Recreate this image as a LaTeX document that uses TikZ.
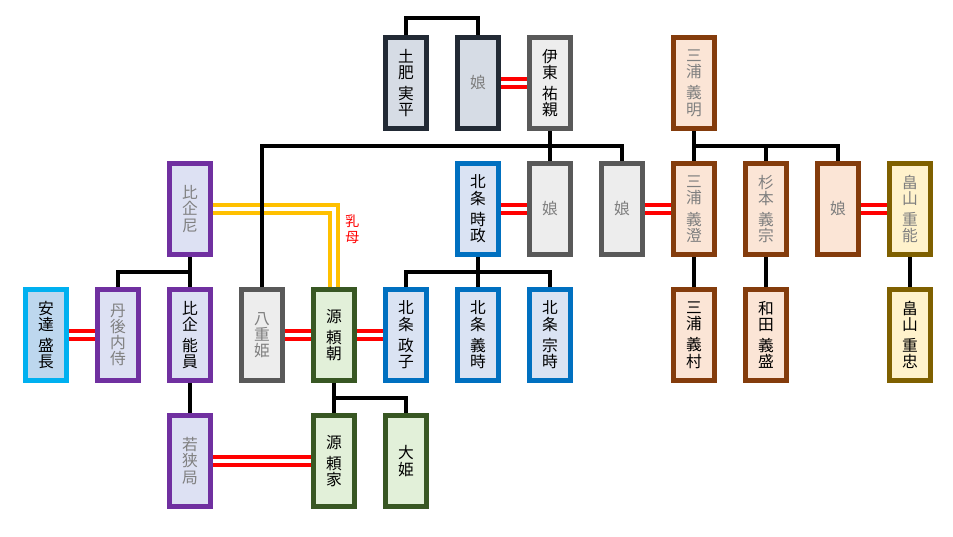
\documentclass[tikz,border=0pt]{standalone}
\usepackage{fontspec}
\newfontfamily\jpfont{Noto Sans CJK JP}
\usetikzlibrary{positioning,calc}
\definecolor{dohiline}{HTML}{222A35}
\definecolor{dohifill}{HTML}{D6DCE5}
\definecolor{greyline}{HTML}{595959}
\definecolor{greyfill}{HTML}{EDEDED}
\definecolor{miuraline}{HTML}{843C0C}
\definecolor{miurafill}{HTML}{FBE5D6}
\definecolor{hatakeline}{HTML}{7F6000}
\definecolor{hatakefill}{HTML}{FFF2CC}
\definecolor{hojoline}{HTML}{0070C0}
\definecolor{hojofill}{HTML}{DAE3F3}
\definecolor{hikiline}{HTML}{7030A0}
\definecolor{hikifill}{HTML}{DDE1F3}
\definecolor{adachiline}{HTML}{00B0F0}
\definecolor{adachifill}{HTML}{BDD7EE}
\definecolor{genjiline}{HTML}{385723}
\definecolor{genjifill}{HTML}{E2F0D9}
\definecolor{dimtext}{HTML}{7F7F7F}
\definecolor{menotoyellow}{HTML}{FFC000}
\tikzset{
person/.style={draw,line width=3.75pt,minimum width=30.75pt,minimum height=68.25pt,inner sep=0pt,outer sep=1.875pt,align=center,font=\jpfont\fontsize{11.8}{12.1}\selectfont},
dohi/.style={person,draw=dohiline,fill=dohifill},
grey/.style={person,draw=greyline,fill=greyfill},
miura/.style={person,draw=miuraline,fill=miurafill},
hatake/.style={person,draw=hatakeline,fill=hatakefill},
hojo/.style={person,draw=hojoline,fill=hojofill},
hiki/.style={person,draw=hikiline,fill=hikifill},
adachi/.style={person,draw=adachiline,fill=adachifill},
genji/.style={person,draw=genjiline,fill=genjifill},
dim/.style={text=dimtext},
kin/.style={line width=2.3pt,black},
marriage/.style={draw=red,line width=3.3pt,double=white,double distance=2.6pt},
nurse/.style={draw=menotoyellow,line width=3.2pt,double=white,double distance=2.8pt}
}
\begin{document}
\begin{tikzpicture}[node distance=22.5pt and 19.5pt]
\useasboundingbox (0,0) rectangle (714.75pt,-402pt);
% third row
\node[adachi](adachi) at (34.5pt,-251.25pt){安\\達\\[4pt]盛\\長};
\node[hiki,dim,right=of adachi](tango){丹\\後\\内\\侍};
\node[hiki,right=of tango](yoshikazu){比\\企\\[4pt]能\\員};
\node[grey,dim,right=of yoshikazu](yae){八\\重\\姫};
\node[genji,right=of yae](yoritomo){源\\[4pt]頼\\朝};
\node[hojo,right=of yoritomo](masako){北\\条\\[4pt]政\\子};
\node[hojo,right=of masako](yoshitoki){北\\条\\[4pt]義\\時};
\node[hojo,right=of yoshitoki](munetoki){北\\条\\[4pt]宗\\時};
% second row
\node[hiki,dim,above=of yoshikazu](hikiama){比\\企\\尼};
\node[hojo,above=of yoshitoki](tokimasa){北\\条\\[4pt]時\\政};
\node[grey,dim,right=of tokimasa](itomusumeA){娘};
\node[grey,dim,right=of itomusumeA](itomusumeB){娘};
\node[miura,dim,right=of itomusumeB](yoshizumi){三\\浦\\[4pt]義\\澄};
\node[miura,dim,right=of yoshizumi](sugimoto){杉\\本\\[4pt]義\\宗};
\node[miura,dim,right=of sugimoto](miuramusume){娘};
\node[hatake,dim,right=of miuramusume](shigeyoshi){畠\\山\\[4pt]重\\能};
% first row
\node[grey,above=of itomusumeA](ito){伊\\東\\[4pt]祐\\親};
\node[dohi,dim,above=of tokimasa](dohimusume){娘};
\node[dohi,left=of dohimusume](dohi){土\\肥\\[4pt]実\\平};
\node[miura,dim,above=of yoshizumi](yoshiaki){三\\浦\\[4pt]義\\明};
% fourth rows
\node[miura,below=of yoshizumi](yoshimura){三\\浦\\[4pt]義\\村};
\node[miura,below=of sugimoto](wada){和\\田\\[4pt]義\\盛};
\node[hatake,below=of shigeyoshi](shigetada){畠\\山\\[4pt]重\\忠};
\node[hiki,dim,below=of yoshikazu](wakasa){若\\狭\\局};
\node[genji,below=of yoritomo](yoriie){源\\[4pt]頼\\家};
\node[genji,below=of masako](ohime){大\\姫};
% wet nurse
\draw[nurse](hikiama.east)-|node[pos=.63,right=5pt,text=red,inner sep=2pt,align=center,font=\jpfont\fontsize{10.5}{12.5}\selectfont](menoto){乳\\母}(yoritomo.north);
% parents and children
\coordinate(itobus) at ($(ito.south)!.5!(itomusumeA.north)$);
\coordinate(miurabus) at ($(yoshiaki.south)!.5!(yoshizumi.north)$);
\coordinate(hojobus) at ($(tokimasa.south)!.5!(yoshitoki.north)$);
\coordinate(hikibus) at ($(hikiama.south)!.5!(yoshikazu.north)$);
\coordinate(genjibus) at ($(yoritomo.south)!.5!(yoriie.north)$);
\draw[kin](dohi.north)--++(0,12.75pt)-|(dohimusume.north);
\draw[kin](ito.south)--(itomusumeA.north);
\draw[kin](yae.north)|-(itobus)-|(itomusumeB.north);
\draw[kin](yoshiaki.south)--(yoshizumi.north);
\draw[kin](miurabus)-|(miuramusume.north);
\draw[kin](sugimoto.north)--(sugimoto.north|-miurabus);
\draw[kin](tokimasa.south)--(yoshitoki.north);
\draw[kin](masako.north)|-(hojobus)-|(munetoki.north);
\draw[kin](hikiama.south)--(yoshikazu.north);
\draw[kin](tango.north)|-(hikibus);
\draw[kin](yoshikazu.south)--(wakasa.north);
\draw[kin](yoritomo.south)--(yoriie.north);
\draw[kin](ohime.north)|-(genjibus);
\draw[kin](yoshizumi.south)--(yoshimura.north);
\draw[kin](sugimoto.south)--(wada.north);
\draw[kin](shigeyoshi.south)--(shigetada.north);
% marriages
\draw[marriage](dohimusume.east)--(ito.west);
\draw[marriage](tokimasa.east)--(itomusumeA.west);
\draw[marriage](itomusumeB.east)--(yoshizumi.west);
\draw[marriage](miuramusume.east)--(shigeyoshi.west);
\draw[marriage](adachi.east)--(tango.west);
\draw[marriage](yae.east)--(yoritomo.west);
\draw[marriage](yoritomo.east)--(masako.west);
\draw[marriage](wakasa.east)--(yoriie.west);
\end{tikzpicture}
\end{document}
